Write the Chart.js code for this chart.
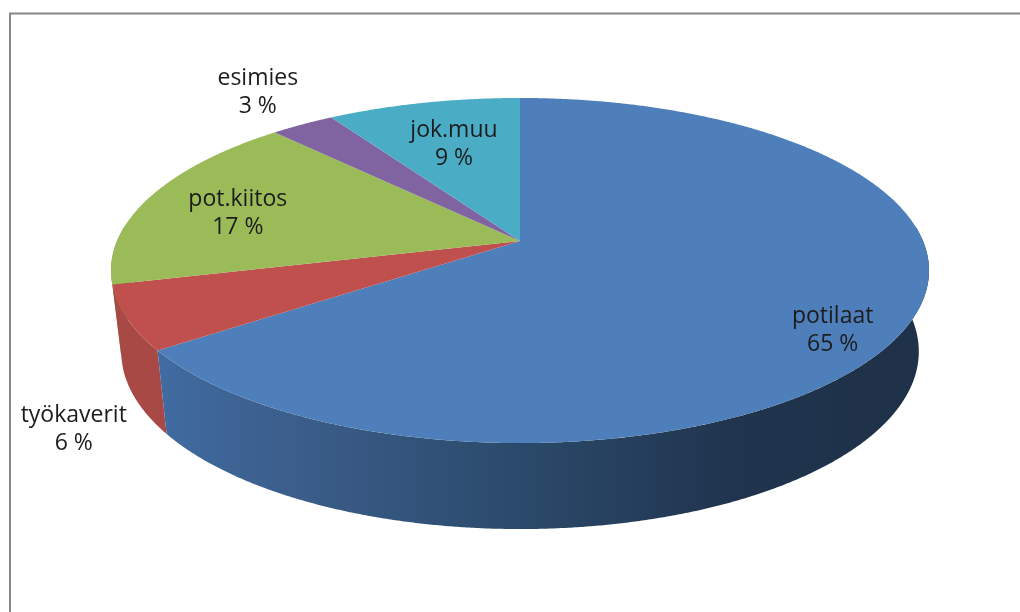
<!DOCTYPE html>
<html>
<head>
<meta charset="utf-8">
<script src="https://cdn.jsdelivr.net/npm/chart.js@4.4.1/dist/chart.umd.min.js"></script>
<style>
  html, body { margin: 0; padding: 0; background: #fff; }
  canvas { display: block; }
</style>
</head>
<body>
<canvas id="myChart" width="1020" height="612"></canvas>
<script>
const categories = ["potilaat", "työkaverit", "pot.kiitos", "esimies", "jok.muu"];
const shares = [65, 6, 17, 3, 9];
const percentLabels = ["65 %", "6 %", "17 %", "3 %", "9 %"];

// slice styles: top face colour and side wall gradient (left -> right)
const topColors = ["#4f7fbb", "#c0504d", "#9bbb59", "#8064a2", "#4bacc6"];
const wallColors = [
  ["#416ca3", "#3b5e8b", "#2b4a6b", "#20344e", "#1f3148"],
  ["#a84946", "#a34542", "#9e413e", "#9a3e3b", "#963c39"],
  ["#809c4a", "#7d9848", "#7a9446", "#769044", "#738c42"],
  ["#6a5388", "#665084", "#624d80", "#5e4a7c", "#5a4778"],
  ["#3e90a6", "#3b8ba0", "#38869a", "#358194", "#327c8e"],
];
// label anchor on the disc: radius and angle shift (deg) from slice middle
const labelPlacement = [
  { r: 0.862, da: 7.4 },
  { r: 1.323, da: -20.2 },
  { r: 0.741, da: -2.8 },
  { r: 1.299, da: 1.6 },
  { r: 0.668, da: 0.4 },
];

// tilted disc projection
const CX = 520, CY = 241, RX = 403, RY = 167.5, PERSP = 0.171;
const DEPTH = 80, DEPTH_TILT = 6, SHRINK = 0.975;

function proj(theta, r) {
  const u = r * Math.cos(theta), v = r * Math.sin(theta);
  const s = 1 / (1 - PERSP * v);
  return [CX + RX * u * s, CY + RY * v * s];
}
function projBottom(theta) {
  const p = proj(theta, 1);
  return [CX + (p[0] - CX) * SHRINK, p[1] + DEPTH + DEPTH_TILT * Math.sin(theta)];
}
function arcPoints(a0, a1, fn) {
  const pts = [];
  const n = Math.max(2, Math.ceil(Math.abs(a1 - a0) / 0.005));
  for (let i = 0; i <= n; i++) pts.push(fn(a0 + (a1 - a0) * i / n));
  return pts;
}

const pie3d = {
  id: "pie3d",
  beforeDraw(chart) {
    const ctx = chart.ctx;
    ctx.save();
    ctx.strokeStyle = "#878787";
    ctx.lineWidth = 2;
    ctx.beginPath();
    ctx.moveTo(10, 612);
    ctx.lineTo(10, 13.5);
    ctx.lineTo(1020, 13.5);
    ctx.stroke();
    ctx.restore();
  },
  beforeDatasetsDraw(chart) {
    const ctx = chart.ctx;
    const arcs = chart.getDatasetMeta(0).data;
    ctx.save();

    // side walls, front part only
    const lo = -0.09, hi = Math.PI + 0.09;
    const walls = [];
    arcs.forEach((arc, i) => {
      const a0 = Math.max(arc.startAngle, lo), a1 = Math.min(arc.endAngle, hi);
      if (a1 > a0) walls.push({ i, a0, a1, depth: Math.sin((a0 + a1) / 2) });
    });
    walls.sort((a, b) => a.depth - b.depth);
    walls.forEach(w => {
      const top = arcPoints(w.a0, w.a1, t => proj(t, 1));
      const bot = arcPoints(w.a0, w.a1, projBottom).reverse();
      const g = ctx.createLinearGradient(150, 0, 930, 0);
      const cols = wallColors[w.i];
      [0, 0.18, 0.47, 0.75, 1].forEach((s, k) => g.addColorStop(s, cols[k]));
      ctx.fillStyle = g;
      ctx.beginPath();
      top.concat(bot).forEach((p, k) => k ? ctx.lineTo(p[0], p[1]) : ctx.moveTo(p[0], p[1]));
      ctx.closePath();
      ctx.fill();
    });

    // top faces
    arcs.forEach((arc, i) => {
      ctx.fillStyle = topColors[i];
      ctx.beginPath();
      ctx.moveTo(CX, CY);
      arcPoints(arc.startAngle, arc.endAngle, t => proj(t, 1)).forEach(p => ctx.lineTo(p[0], p[1]));
      ctx.closePath();
      ctx.fill();
    });

    // data labels
    ctx.font = '23px "Open Sans"';
    ctx.fillStyle = "#1c1c1c";
    ctx.textAlign = "center";
    ctx.textBaseline = "alphabetic";
    arcs.forEach((arc, i) => {
      const pl = labelPlacement[i];
      const mid = (arc.startAngle + arc.endAngle) / 2 + pl.da * Math.PI / 180;
      const p = proj(mid, pl.r);
      ctx.fillText(categories[i], p[0], p[1] - 7);
      ctx.fillText(percentLabels[i], p[0], p[1] + 21);
    });

    ctx.restore();
    return false;
  },
};

new Chart(document.getElementById("myChart"), {
  type: "pie",
  data: {
    labels: categories,
    datasets: [{ data: shares, backgroundColor: topColors, borderWidth: 0 }],
  },
  options: {
    responsive: false,
    animation: false,
    events: [],
    plugins: {
      legend: { display: false },
      tooltip: { enabled: false },
    },
  },
  plugins: [pie3d],
});
</script>
</body>
</html>
